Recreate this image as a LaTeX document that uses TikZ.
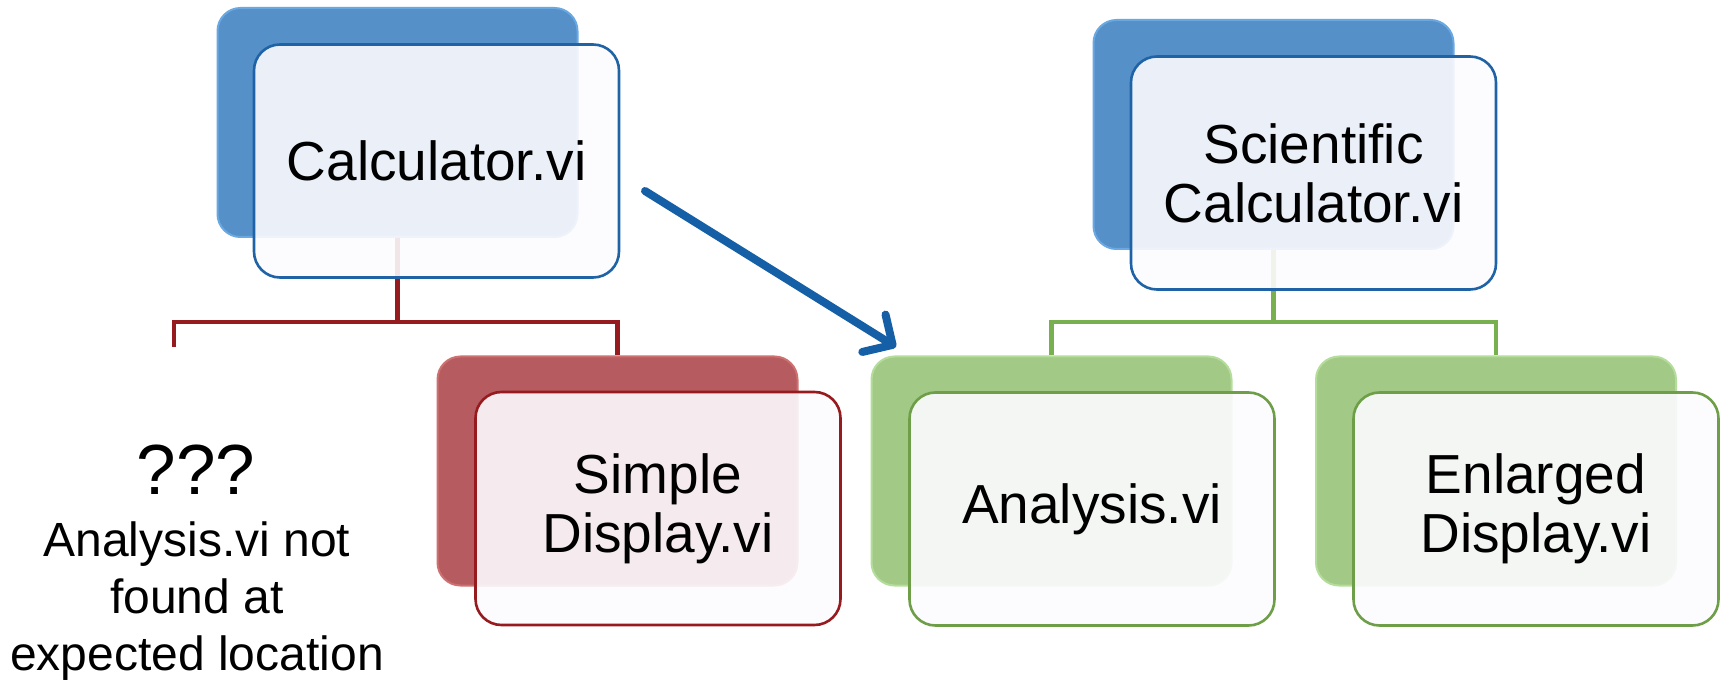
\documentclass[tikz,border=0pt]{standalone}
\usepackage{fontspec}
\setmainfont{Liberation Sans}
\usetikzlibrary{arrows.meta}
\definecolor{blueback}{HTML}{5590C8}
\definecolor{blueedge}{HTML}{6AA8E2}
\definecolor{blueline}{HTML}{1F63A6}
\definecolor{redback}{HTML}{B65B5F}
\definecolor{rededge}{HTML}{CC7070}
\definecolor{redline}{HTML}{961B1F}
\definecolor{greenback}{HTML}{A2C985}
\definecolor{greenedge}{HTML}{B4DD9B}
\definecolor{greenline}{HTML}{6E9E48}
\definecolor{greenconn}{HTML}{79B04F}
\definecolor{arrowblue}{HTML}{155FA6}
\definecolor{cardfill}{HTML}{FCFBFE}
\tikzset{
  backcard/.style={rounded corners=11.5pt, minimum width=180pt, minimum height=114.5pt,
    inner sep=0pt, line width=1pt},
  frontcard/.style={rounded corners=13pt, minimum width=182.5pt, minimum height=116.5pt,
    inner sep=0pt, line width=1.3pt, fill=cardfill, fill opacity=0.9, text opacity=1,
    align=center, font=\fontsize{27.5}{29.5}\selectfont},
  bluecard/.style={backcard, fill=blueback, draw=blueedge},
  redcard/.style={backcard, fill=redback, draw=rededge},
  greencard/.style={backcard, fill=greenback, draw=greenedge},
  redconn/.style={draw=redline, line width=2.4pt, line join=miter},
  greenconn/.style={draw=greenconn, line width=2.4pt, line join=miter},
  jumparrow/.style={draw=arrowblue, line width=4pt, line cap=round,
    -{Straight Barb[length=11pt, width=22pt, line cap=round, line join=round]}},
}
\begin{document}
\begin{tikzpicture}[x=0.5pt, y=-0.5pt]
\useasboundingbox (0,0) rectangle (1725,684);

% joins between levels
\coordinate (redbar) at (396,322);
\coordinate (missing) at (174,347);
\coordinate (greenbar) at (1273,322);

% back cards
\node[bluecard] (calcback) at (397.5,122.5) {};
\node[bluecard] (sciback) at (1273.5,134.5) {};
\node[redcard] (simpleback) at (617.5,471) {};
\node[greencard] (anaback) at (1051.5,471) {};
\node[greencard] (enlback) at (1496,471) {};

% connectors from the top cards
\draw[redconn] (calcback.south) -- (calcback.south |- redbar) -| (missing);
\draw[redconn] (calcback.south |- redbar) -| (simpleback.north);
\draw[greenconn] (sciback.south) -- (sciback.south |- greenbar) -| (anaback.north);
\draw[greenconn] (sciback.south |- greenbar) -| (enlback.north);

% front cards
\node[frontcard, draw=blueline] (calc) at (436.5,161) {Calculator.vi};
\node[frontcard, draw=blueline] (sci) at (1313.5,173) {Scientific\\Calculator.vi};
\node[frontcard, draw=redline] (simple) at (658,508.5) {Simple\\Display.vi};
\node[frontcard, draw=greenline] (ana) at (1092,509) {Analysis.vi};
\node[frontcard, draw=greenline] (enl) at (1536,509) {Enlarged\\Display.vi};

% missing subVI note
\node[font=\fontsize{35.5}{38}\selectfont, inner sep=0pt] (qmarks) at (196,470) {???};
\node[font=\fontsize{24}{28.5}\selectfont, align=center, inner sep=0pt] (notfound) at (197,601)
  {Analysis.vi not\\found at\\expected location};

% relink arrow
\coordinate (arrowfrom) at (645,191);
\coordinate (arrowto) at (896,347);
\draw[jumparrow] (arrowfrom) -- (arrowto);
\end{tikzpicture}
\end{document}
